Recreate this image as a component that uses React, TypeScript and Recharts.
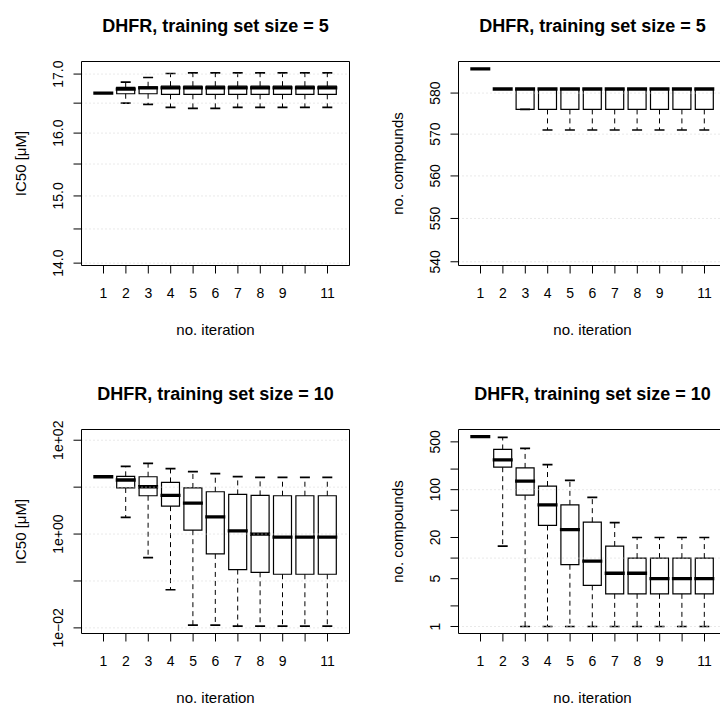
import React from 'react';
import { ComposedChart, Bar, XAxis, YAxis, ReferenceLine } from 'recharts';

const FONT = '"Liberation Sans", Arial, Helvetica, sans-serif';

// ---------- shared categories ----------
const iterations = ['1', '2', '3', '4', '5', '6', '7', '8', '9', '10', '11'];
const iterationTickLabels = ['1', '2', '3', '4', '5', '6', '7', '8', '9', '', '11'];

// ---------- panel: IC50, training set size = 5 ----------
const ic50S5Min = [16.67, 16.5, 16.48, 16.43, 16.41, 16.41, 16.43, 16.43, 16.43, 16.43, 16.43];
const ic50S5Q1 = [16.67, 16.66, 16.66, 16.65, 16.65, 16.65, 16.65, 16.65, 16.65, 16.65, 16.65];
const ic50S5Med = [16.67, 16.74, 16.76, 16.76, 16.76, 16.76, 16.76, 16.76, 16.76, 16.76, 16.76];
const ic50S5Q3 = [16.67, 16.77, 16.78, 16.79, 16.79, 16.79, 16.79, 16.79, 16.79, 16.79, 16.79];
const ic50S5Max = [16.67, 16.86, 16.94, 17.01, 17.02, 17.02, 17.02, 17.02, 17.02, 17.02, 17.02];
const ic50S5Domain: [number, number] = [13.966, 17.221];
const ic50S5Ticks = [14, 14.5, 15, 15.5, 16, 16.5, 17];
const ic50S5TickLabels = ['14.0', '', '15.0', '', '16.0', '', '17.0'];
const ic50S5Grid = [14, 14.5, 15, 15.5, 16, 16.5, 17];

// ---------- panel: no. compounds, training set size = 5 ----------
const cntS5Min = [586, 581, 576, 571, 571, 571, 571, 571, 571, 571, 571];
const cntS5Q1 = [586, 581, 576, 576, 576, 576, 576, 576, 576, 576, 576];
const cntS5Med = [586, 581, 581, 581, 581, 581, 581, 581, 581, 581, 581];
const cntS5Q3 = [586, 581, 581, 581, 581, 581, 581, 581, 581, 581, 581];
const cntS5Max = [586, 581, 581, 581, 581, 581, 581, 581, 581, 581, 581];
const cntS5Domain: [number, number] = [539.15, 587.81];
const cntS5Ticks = [540, 550, 560, 570, 580];
const cntS5TickLabels = ['540', '550', '560', '570', '580'];
const cntS5Grid = [540, 550, 560, 570, 580];

// ---------- panel: IC50, training set size = 10 ----------
const ic50S10Min = [16.67, 2.26, 0.315, 0.065, 0.0114, 0.0114, 0.0109, 0.0109, 0.0109, 0.0109, 0.0109];
const ic50S10Q1 = [16.67, 9.6, 6.56, 3.94, 1.21, 0.377, 0.175, 0.153, 0.139, 0.139, 0.139];
const ic50S10Med = [16.67, 14.2, 10.2, 6.67, 4.57, 2.33, 1.17, 1.0, 0.857, 0.857, 0.857];
const ic50S10Q3 = [16.67, 17.0, 16.67, 12.6, 9.6, 7.98, 7.0, 6.67, 6.56, 6.56, 6.56];
const ic50S10Max = [16.67, 27.8, 32.2, 24.8, 21.4, 19.4, 16.7, 16.2, 16.2, 16.2, 16.2];
const ic50S10Domain: [number, number] = [0.007592, 169.3];
const ic50S10Ticks = [0.01, 0.1, 1, 10, 100];
const ic50S10TickLabels = ['1e\u221202', '', '1e+00', '', '1e+02'];
const ic50S10Grid = [0.01, 0.1, 1, 10, 100];

// ---------- panel: no. compounds, training set size = 10 ----------
const cntS10Min = [595, 15, 1, 1, 1, 1, 1, 1, 1, 1, 1];
const cntS10Q1 = [595, 213, 83, 30, 8, 4, 3, 3, 3, 3, 3];
const cntS10Med = [595, 273, 133, 60, 26, 9, 6, 6, 5, 5, 5];
const cntS10Q3 = [595, 387, 208, 113, 60, 33.5, 15, 10, 10, 10, 10];
const cntS10Max = [595, 580, 401, 233, 137, 77, 33, 20, 20, 20, 20];
const cntS10Domain: [number, number] = [0.79, 758];
const cntS10Ticks = [1, 2, 5, 10, 20, 50, 100, 200, 500];
const cntS10TickLabels = ['1', '', '5', '', '20', '', '100', '', '500'];
const cntS10Grid = [1, 10, 100];

// ---------- styles ----------
const BOX_W = 18;
const CAP_W = 10;
const X_PAD = { left: 10.8, right: 10.8 };

const norm = (p: any) => {
  const y0 = Number(p.y);
  const h = Number(p.height) || 0;
  return { top: Math.min(y0, y0 + h), bot: Math.max(y0, y0 + h) };
};

const BoxShape = (p: any) => {
  const { top, bot } = norm(p);
  const x = p.x;
  const w = p.width;
  return (
    <path
      d={`M${x},${top}H${x + w}V${bot}H${x}Z`}
      fill="#fff"
      stroke="#000"
      strokeWidth={1.2}
    />
  );
};

const LowerWhisker = (p: any) => {
  const { top, bot } = norm(p);
  const cx = p.x + p.width / 2;
  return (
    <g>
      {bot - top > 0.5 && (
        <line x1={cx} x2={cx} y1={top} y2={bot} stroke="#000" strokeWidth={1} strokeDasharray="5 4" />
      )}
      <line x1={cx - CAP_W / 2} x2={cx + CAP_W / 2} y1={bot} y2={bot} stroke="#000" strokeWidth={1.7} />
    </g>
  );
};

const UpperWhisker = (p: any) => {
  const { top, bot } = norm(p);
  const cx = p.x + p.width / 2;
  return (
    <g>
      {bot - top > 0.5 && (
        <line x1={cx} x2={cx} y1={bot} y2={top} stroke="#000" strokeWidth={1} strokeDasharray="5 4" />
      )}
      <line x1={cx - CAP_W / 2} x2={cx + CAP_W / 2} y1={top} y2={top} stroke="#000" strokeWidth={1.7} />
    </g>
  );
};

const MedianShape = (p: any) => {
  const { top } = norm(p);
  return (
    <line x1={p.x - 1} x2={p.x + p.width + 1} y1={top} y2={top} stroke="#000" strokeWidth={3.3} />
  );
};

type PanelProps = {
  title: string;
  yLabel: string;
  mins: number[];
  q1s: number[];
  meds: number[];
  q3s: number[];
  maxs: number[];
  domain: [number, number];
  ticks: number[];
  tickLabels: string[];
  grid: number[];
};

function BoxPanel(props: PanelProps) {
  const { title, yLabel, mins, q1s, meds, q3s, maxs, domain, ticks, tickLabels, grid } = props;
  const rows = iterations.map((it, i) => ({
    it,
    lower: [mins[i], q1s[i]],
    box: [q1s[i], q3s[i]],
    upper: [q3s[i], maxs[i]],
    median: [meds[i], meds[i]],
  }));

  const xTick = (tp: any) => {
    const idx = iterations.indexOf(String(tp.payload?.value));
    const lab = idx >= 0 ? iterationTickLabels[idx] : '';
    return (
      <text x={tp.x} y={tp.y} dy={24} textAnchor="middle" fontFamily={FONT} fontSize={14} fill="#000">
        {lab}
      </text>
    );
  };

  const yTick = (tp: any) => {
    const v = Number(tp.payload?.value);
    let idx = -1;
    ticks.forEach((t, i) => {
      if (Math.abs(t - v) < 1e-9 * Math.max(1, Math.abs(t))) idx = i;
    });
    const lab = idx >= 0 ? tickLabels[idx] : '';
    const bx = tp.x - 10.5;
    return (
      <text
        x={bx}
        y={tp.y}
        textAnchor="middle"
        transform={`rotate(-90, ${bx}, ${tp.y})`}
        fontFamily={FONT}
        fontSize={14}
        fill="#000"
      >
        {lab}
      </text>
    );
  };

  const titleLabel = (lp: any) => {
    const vb = lp.viewBox || {};
    return (
      <text
        x={vb.x + vb.width / 2}
        y={vb.y + vb.height - 29.2}
        textAnchor="middle"
        fontFamily={FONT}
        fontSize={18}
        fontWeight="bold"
        fill="#000"
      >
        {title}
      </text>
    );
  };

  const xLabel = (lp: any) => {
    const vb = lp.viewBox || {};
    return (
      <text x={vb.x + vb.width / 2} y={vb.y + 69.5} textAnchor="middle" fontFamily={FONT} fontSize={15} fill="#000">
        no. iteration
      </text>
    );
  };

  const yLab = (lp: any) => {
    const vb = lp.viewBox || {};
    const bx = vb.x + 4.5;
    const by = vb.y + vb.height / 2;
    return (
      <text
        x={bx}
        y={by}
        textAnchor="middle"
        transform={`rotate(-90, ${bx}, ${by})`}
        fontFamily={FONT}
        fontSize={15}
        fill="#000"
      >
        {yLabel}
      </text>
    );
  };

  return (
    <ComposedChart
      width={360}
      height={350}
      data={rows}
      margin={{ top: 60.5, right: 9.5, bottom: 24.5, left: 21.5 }}
    >
      <XAxis
        xAxisId="frameTop"
        orientation="top"
        dataKey="it"
        height={1}
        tick={false}
        tickLine={false}
        axisLine={{ stroke: '#000', strokeWidth: 1 }}
        label={titleLabel}
      />
      <XAxis
        xAxisId="main"
        dataKey="it"
        height={60}
        padding={X_PAD}
        interval={0}
        tickSize={8}
        tickMargin={0}
        tick={xTick}
        tickLine={{ stroke: '#000' }}
        axisLine={{ stroke: '#000', strokeWidth: 1 }}
        label={xLabel}
      />
      <XAxis xAxisId="w1" dataKey="it" hide padding={X_PAD} />
      <XAxis xAxisId="w2" dataKey="it" hide padding={X_PAD} />
      <XAxis xAxisId="med" dataKey="it" hide padding={X_PAD} />
      <YAxis
        yAxisId="main"
        type="number"
        scale="log"
        domain={domain}
        allowDataOverflow
        ticks={ticks}
        interval={0}
        width={60}
        tickSize={8}
        tickMargin={0}
        tick={yTick}
        tickLine={{ stroke: '#000' }}
        axisLine={{ stroke: '#000', strokeWidth: 1 }}
        label={yLab}
      />
      <YAxis
        yAxisId="frameRight"
        orientation="right"
        type="number"
        scale="log"
        domain={domain}
        allowDataOverflow
        width={1}
        tick={false}
        tickLine={false}
        axisLine={{ stroke: '#000', strokeWidth: 1 }}
      />
      {grid.map((g) => (
        <ReferenceLine
          key={`g${g}`}
          xAxisId="frameTop"
          yAxisId="main"
          y={g}
          stroke="#d3d3d3"
          strokeWidth={1}
          strokeDasharray="1 3"
        />
      ))}
      <Bar xAxisId="main" yAxisId="main" dataKey="box" barSize={BOX_W} shape={BoxShape} isAnimationActive={false} />
      <Bar xAxisId="w1" yAxisId="main" dataKey="lower" barSize={BOX_W} shape={LowerWhisker} isAnimationActive={false} />
      <Bar xAxisId="w2" yAxisId="main" dataKey="upper" barSize={BOX_W} shape={UpperWhisker} isAnimationActive={false} />
      <Bar xAxisId="med" yAxisId="main" dataKey="median" barSize={BOX_W} shape={MedianShape} isAnimationActive={false} />
    </ComposedChart>
  );
}

export default function App() {
  return (
    <div
      style={{
        position: 'absolute',
        left: 0,
        top: 0,
        width: 720,
        height: 707,
        overflow: 'hidden',
        background: '#fff',
      }}
    >
      <div style={{ position: 'absolute', left: 0, top: 0 }}>
        <BoxPanel
          title="DHFR, training set size = 5"
          yLabel="IC50 [μM]"
          mins={ic50S5Min}
          q1s={ic50S5Q1}
          meds={ic50S5Med}
          q3s={ic50S5Q3}
          maxs={ic50S5Max}
          domain={ic50S5Domain}
          ticks={ic50S5Ticks}
          tickLabels={ic50S5TickLabels}
          grid={ic50S5Grid}
        />
      </div>
      <div style={{ position: 'absolute', left: 377, top: 0 }}>
        <BoxPanel
          title="DHFR, training set size = 5"
          yLabel="no. compounds"
          mins={cntS5Min}
          q1s={cntS5Q1}
          meds={cntS5Med}
          q3s={cntS5Q3}
          maxs={cntS5Max}
          domain={cntS5Domain}
          ticks={cntS5Ticks}
          tickLabels={cntS5TickLabels}
          grid={cntS5Grid}
        />
      </div>
      <div style={{ position: 'absolute', left: 0, top: 368 }}>
        <BoxPanel
          title="DHFR, training set size = 10"
          yLabel="IC50 [μM]"
          mins={ic50S10Min}
          q1s={ic50S10Q1}
          meds={ic50S10Med}
          q3s={ic50S10Q3}
          maxs={ic50S10Max}
          domain={ic50S10Domain}
          ticks={ic50S10Ticks}
          tickLabels={ic50S10TickLabels}
          grid={ic50S10Grid}
        />
      </div>
      <div style={{ position: 'absolute', left: 377, top: 368 }}>
        <BoxPanel
          title="DHFR, training set size = 10"
          yLabel="no. compounds"
          mins={cntS10Min}
          q1s={cntS10Q1}
          meds={cntS10Med}
          q3s={cntS10Q3}
          maxs={cntS10Max}
          domain={cntS10Domain}
          ticks={cntS10Ticks}
          tickLabels={cntS10TickLabels}
          grid={cntS10Grid}
        />
      </div>
    </div>
  );
}
